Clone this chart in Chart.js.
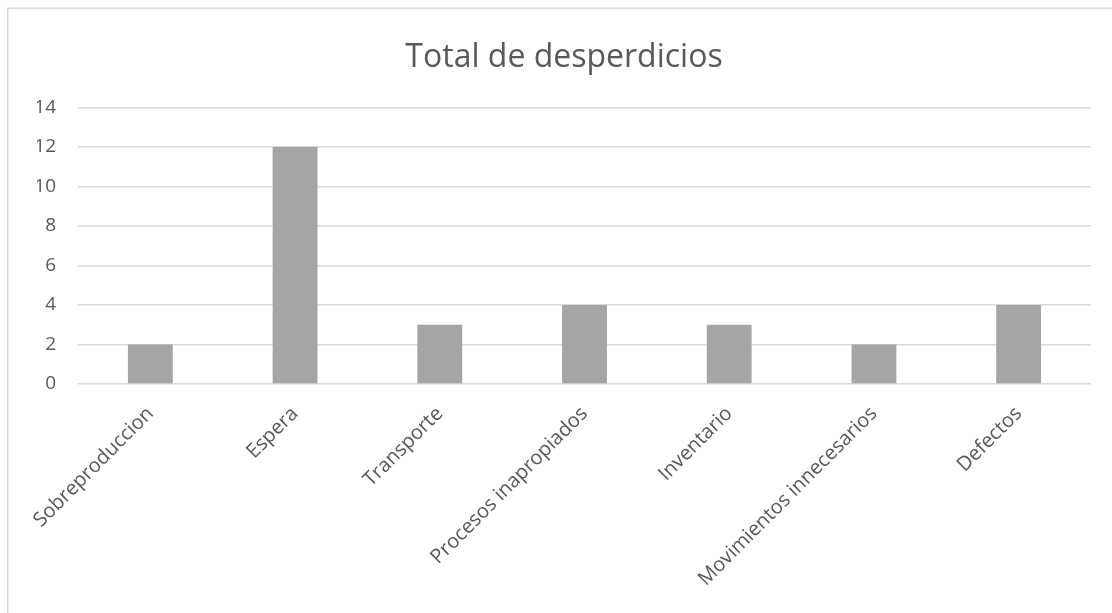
<!DOCTYPE html>
<html>
<head>
<meta charset="utf-8">
<script src="https://cdn.jsdelivr.net/npm/chart.js@4/dist/chart.umd.min.js"></script>
<style>
html,body{margin:0;padding:0;background:#fff;}
#wrap{position:absolute;left:0;top:0;width:1112px;height:613px;}
</style>
</head>
<body>
<div id="wrap"><canvas id="c" width="1112" height="613"></canvas></div>
<script>
const categories = ["Sobreproduccion","Espera","Transporte","Procesos inapropiados","Inventario","Movimientos innecesarios","Defectos"];
const values = [2,12,3,4,3,2,4];
const yTicks = [0,2,4,6,8,10,12,14];
const chartTitle = "Total de desperdicios";

const borderPlugin = {
  id: 'frame',
  beforeDraw(chart){
    const ctx = chart.ctx;
    ctx.save();
    ctx.fillStyle = '#fff';
    ctx.fillRect(0,0,chart.width,chart.height);
    ctx.strokeStyle = '#D9D9D9';
    ctx.lineWidth = 1.5;
    ctx.strokeRect(7.75, 8.25, 1200, 700);
    ctx.restore();
  }
};

new Chart(document.getElementById('c'), {
  type: 'bar',
  data: {
    labels: categories,
    datasets: [{
      data: values,
      backgroundColor: '#A5A5A5',
      borderWidth: 0,
      barPercentage: 0.31,
      categoryPercentage: 1.0
    }]
  },
  plugins: [borderPlugin],
  options: {
    responsive: false,
    animation: false,
    devicePixelRatio: 1,
    layout: { padding: { left: 37, right: 21, top: 0, bottom: 0 } },
    plugins: {
      legend: { display: false },
      tooltip: { enabled: false },
      title: {
        display: true,
        text: chartTitle,
        color: '#595959',
        font: { family: 'Open Sans', size: 32, weight: 'normal' },
        padding: { top: 39, bottom: 30 }
      }
    },
    scales: {
      x: {
        grid: { display: false, drawTicks: false },
        border: { display: false },
        ticks: {
          color: '#595959',
          font: { family: 'Open Sans', size: 20 },
          maxRotation: 45,
          minRotation: 45,
          padding: 18,
          autoSkip: false
        },
        afterFit(scale){ scale.height = 229; }
      },
      y: {
        min: 0,
        max: 14,
        afterBuildTicks(scale){ scale.ticks = yTicks.map(v => ({value: v})); },
        grid: { color: '#D9D9D9', lineWidth: 1.5, drawTicks: false },
        border: { display: false },
        ticks: {
          color: '#595959',
          font: { family: 'Open Sans', size: 19 },
          padding: 22
        },
        afterFit(scale){ scale.width = 41; }
      }
    }
  }
});
</script>
</body>
</html>
